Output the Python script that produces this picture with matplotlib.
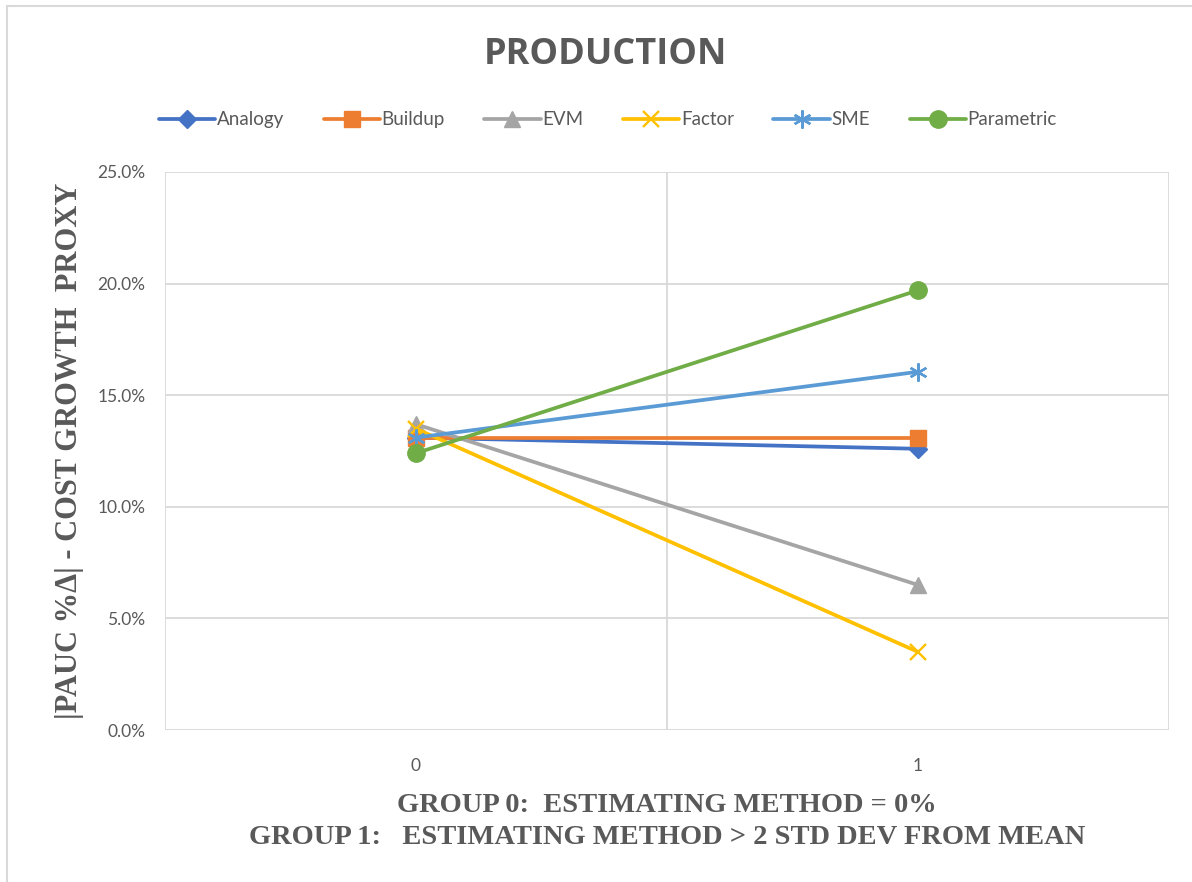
import matplotlib
matplotlib.use("Agg")
import matplotlib.pyplot as plt
from matplotlib.patches import Rectangle
from matplotlib.ticker import FuncFormatter, FixedLocator

groups = [0, 1]
group_labels = ["0", "1"]

analogy = [13.1, 12.6]
buildup = [13.1, 13.1]
evm = [13.7, 6.5]
factor = [13.5, 3.5]
sme = [13.1, 16.05]
parametric = [12.4, 19.7]

series = [
    ("Analogy", analogy, "#4472C4", "D", 9),
    ("Buildup", buildup, "#ED7D31", "s", 12),
    ("EVM", evm, "#A5A5A5", "^", 11),
    ("Factor", factor, "#FFC000", "x", 11),
    ("SME", sme, "#5B9BD5", (6, 2, 0), 13),
    ("Parametric", parametric, "#70AD47", "o", 12.5),
]

text_gray = "#595959"
grid_gray = "#D9D9D9"

fig = plt.figure(figsize=(11.92, 8.82), dpi=100)
ax = fig.add_axes([0.1384, 0.1723, 0.8423, 0.6327])

for name, values, color, marker, size in series:
    ax.plot(groups, values, color=color, linewidth=2.7, marker=marker,
            markersize=size, markeredgewidth=1.7 if marker in ("x", (6, 2, 0)) else 1,
            markeredgecolor=color, markerfacecolor=color, label=name,
            solid_capstyle="round")

ax.set_xlim(-0.5, 1.5)
ax.set_ylim(0, 25)
ax.set_yticks([0, 5, 10, 15, 20, 25])
ax.yaxis.set_major_formatter(FuncFormatter(lambda v, _: f"{v:.1f}%"))
ax.set_xticks(groups)
ax.set_xticklabels(group_labels)
ax.xaxis.set_minor_locator(FixedLocator([-0.5, 0.5, 1.5]))

ax.grid(axis="y", which="major", color=grid_gray, linewidth=1.3)
ax.grid(axis="x", which="minor", color=grid_gray, linewidth=1.3)
ax.grid(axis="x", which="major", visible=False)
ax.set_axisbelow(True)
for spine in ax.spines.values():
    spine.set_visible(False)
ax.tick_params(axis="both", which="both", length=0, labelsize=12.5,
               labelcolor=text_gray, pad=14)
ax.tick_params(axis="x", pad=20)
for lbl in ax.get_xticklabels() + ax.get_yticklabels():
    lbl.set_family("Lato")

ax.set_ylabel("|PAUC %\u0394| - COST GROWTH  PROXY", family="Liberation Serif",
              fontweight="bold", fontsize=22, color=text_gray, labelpad=10)
ax.set_xlabel("GROUP 0:  ESTIMATING METHOD = 0%\n"
              "GROUP 1:   ESTIMATING METHOD > 2 STD DEV FROM MEAN",
              family="Liberation Serif", fontweight="bold", fontsize=20.5,
              color=text_gray, labelpad=14, linespacing=1.35)

fig.text(0.508, 0.938, "PRODUCTION", ha="center", va="center",
         family="Open Sans", fontweight="bold", fontsize=26, color=text_gray)

fig.legend(loc="center", bbox_to_anchor=(0.51, 0.864), ncol=6, frameon=False,
           handlelength=3.0, handletextpad=0.1, columnspacing=2.1,
           prop={"family": "Lato", "size": 13.5}, labelcolor=text_gray)

fig.patches.append(Rectangle((0.0055, -0.1), 1.2, 1.093, transform=fig.transFigure,
                             fill=False, edgecolor="#D9D9D9", linewidth=1.5))

fig.savefig("out.png", dpi=100)
